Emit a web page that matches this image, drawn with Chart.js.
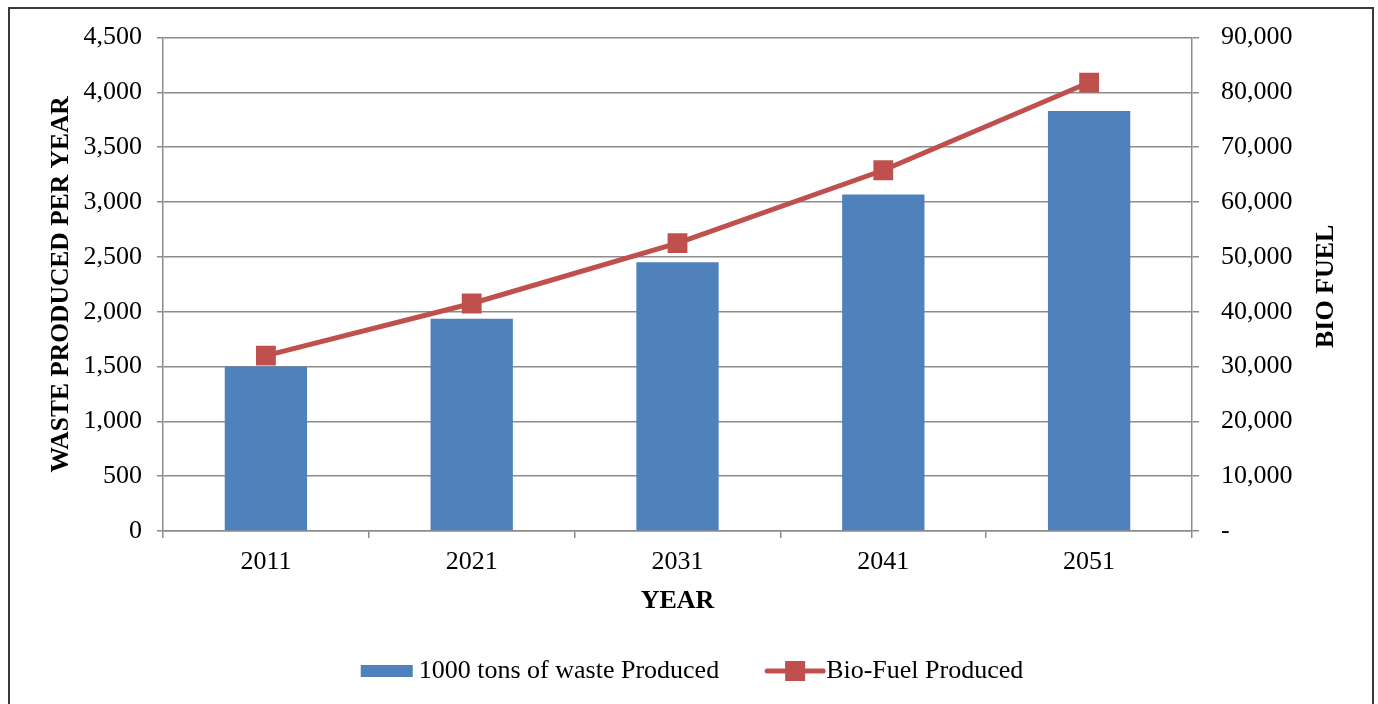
<!DOCTYPE html>
<html>
<head>
<meta charset="utf-8">
<script src="https://cdn.jsdelivr.net/npm/chart.js@4.4.1/dist/chart.umd.min.js"></script>
<style>
  html, body { margin: 0; padding: 0; background: #fff; }
  #frame {
    position: absolute; left: 8px; top: 7px; width: 1366px; height: 720px;
    border: 2px solid #3a3a3a; box-sizing: border-box;
  }
  #wrap { position: absolute; left: 0; top: 0; width: 1378px; height: 704px; }
</style>
</head>
<body>
<div id="frame"></div>
<div id="wrap"><canvas id="chart" width="1378" height="704"></canvas></div>
<script>
// data
const years = ["2011", "2021", "2031", "2041", "2051"];
const wasteProduced = [1500, 1935, 2450, 3070, 3830];
const bioFuelProduced = [32000, 41500, 52500, 65800, 81800];
const wasteTicks = [0, 500, 1000, 1500, 2000, 2500, 3000, 3500, 4000, 4500];
const fuelTicks = [0, 10000, 20000, 30000, 40000, 50000, 60000, 70000, 80000, 90000];
const rightTitle = "BIO FUEL";

const FONT = "'Liberation Serif', 'Times New Roman', serif";
const GRID = "#8c8c8c";

// right axis title reads bottom-to-top (Chart.js would rotate it the other way)
const rightAxisTitle = {
  id: "rightAxisTitle",
  afterDraw(chart) {
    const ctx = chart.ctx;
    const s = chart.scales.y1;
    ctx.save();
    ctx.font = "bold 26px " + FONT;
    ctx.fillStyle = "#000";
    ctx.textAlign = "center";
    ctx.textBaseline = "middle";
    ctx.translate(1326, (s.top + s.bottom) / 2 + 2);
    ctx.rotate(-Math.PI / 2);
    ctx.fillText(rightTitle, 0, 0);
    ctx.restore();
  }
};

// legend: bar swatch, then line with square marker
const bottomLegend = {
  id: "bottomLegend",
  afterDraw(chart) {
    const ctx = chart.ctx;
    const bar = chart.data.datasets[0];
    const line = chart.data.datasets[1];
    const y = 671;
    ctx.save();
    ctx.font = "26px " + FONT;
    ctx.textBaseline = "middle";
    const w1 = ctx.measureText(bar.label).width;
    const w2 = ctx.measureText(line.label).width;
    const total = 52 + 6 + w1 + 48 + 56 + 3 + w2;
    let x = 692 - total / 2;

    ctx.fillStyle = bar.backgroundColor;
    ctx.fillRect(x, y - 6, 52, 12);
    x += 58;
    ctx.fillStyle = "#000";
    ctx.fillText(bar.label, x, y);
    x += w1 + 48;

    ctx.strokeStyle = line.borderColor;
    ctx.lineWidth = 5;
    ctx.lineCap = "round";
    ctx.beginPath();
    ctx.moveTo(x, y);
    ctx.lineTo(x + 56, y);
    ctx.stroke();
    ctx.fillStyle = line.borderColor;
    ctx.fillRect(x + 28 - 10, y - 10, 20, 20);
    x += 59;
    ctx.fillStyle = "#000";
    ctx.fillText(line.label, x, y);
    ctx.restore();
  }
};

const ctx = document.getElementById("chart").getContext("2d");
new Chart(ctx, {
  type: "bar",
  data: {
    labels: years,
    datasets: [
      {
        type: "bar",
        label: "1000 tons of waste Produced",
        data: wasteProduced,
        backgroundColor: "#4F81BD",
        yAxisID: "y",
        categoryPercentage: 1,
        barPercentage: 0.4,
        order: 1,
      },
      {
        type: "line",
        label: "Bio-Fuel Produced",
        data: bioFuelProduced,
        borderColor: "#C0504D",
        backgroundColor: "#C0504D",
        borderWidth: 5,
        tension: 0,
        pointStyle: "rect",
        pointRadius: 14,
        pointHoverRadius: 14,
        pointBorderWidth: 0,
        yAxisID: "y1",
        order: 0,
      },
    ],
  },
  options: {
    responsive: false,
    animation: false,
    layout: { padding: { top: 37, left: 0, right: 0, bottom: 0 } },
    plugins: {
      legend: { display: false },
      tooltip: { enabled: false },
    },
    scales: {
      x: {
        offset: true,
        grid: { display: true, drawOnChartArea: false, drawTicks: true, tickLength: 7, color: GRID, lineWidth: 1.5 },
        border: { display: true, color: GRID, width: 1.5 },
        ticks: { color: "#000", padding: 9, font: { family: FONT, size: 26 } },
        title: { display: true, text: "YEAR", color: "#000", padding: { bottom: 87 }, font: { family: FONT, size: 26, weight: "bold", lineHeight: 1.2 } },
        afterFit(scale) { scale.height = 173; },
      },
      y: {
        position: "left",
        min: 0,
        max: 4500,
        afterBuildTicks(scale) { scale.ticks = wasteTicks.map((v) => ({ value: v })); },
        grid: { color: GRID, lineWidth: 1.5, tickLength: 6 },
        border: { display: true, color: GRID, width: 1.5 },
        ticks: {
          color: "#000",
          padding: 15,
          font: { family: FONT, size: 26 },
          callback: (v) => v.toLocaleString("en-US"),
        },
        title: { display: true, text: "WASTE PRODUCED PER YEAR", color: "#000", padding: { top: 46 }, font: { family: FONT, size: 25.5, weight: "bold", lineHeight: 1.2 } },
        afterFit(scale) { scale.width = 163; },
      },
      y1: {
        position: "right",
        min: 0,
        max: 90000,
        afterBuildTicks(scale) { scale.ticks = fuelTicks.map((v) => ({ value: v })); },
        grid: { drawOnChartArea: false, color: GRID, lineWidth: 1.5, tickLength: 7 },
        border: { display: true, color: GRID, width: 1.5 },
        ticks: {
          color: "#000",
          padding: 22,
          font: { family: FONT, size: 26 },
          callback: (v) => (v === 0 ? "-" : v.toLocaleString("en-US")),
        },
        title: { display: false },
        afterFit(scale) { scale.width = 186; },
      },
    },
  },
  plugins: [bottomLegend, rightAxisTitle],
});
</script>
</body>
</html>
